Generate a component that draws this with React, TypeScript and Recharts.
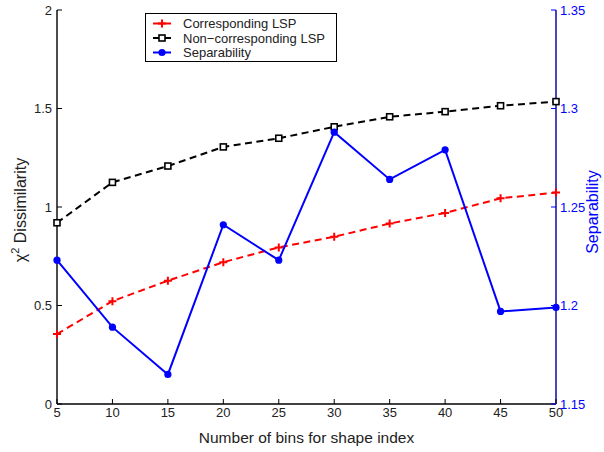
import { LineChart, Line, XAxis, YAxis, Legend } from 'recharts'

const bins = [5, 10, 15, 20, 25, 30, 35, 40, 45, 50]
const corresponding = [0.355, 0.522, 0.626, 0.72, 0.795, 0.849, 0.916, 0.97, 1.044, 1.073]
const nonCorresponding = [0.92, 1.125, 1.208, 1.305, 1.349, 1.407, 1.458, 1.484, 1.514, 1.535]
const separability = [1.223, 1.189, 1.165, 1.241, 1.223, 1.288, 1.264, 1.279, 1.197, 1.199]

const xTicks = [5, 10, 15, 20, 25, 30, 35, 40, 45, 50]
const leftTicks = [0, 0.5, 1, 1.5, 2]
const rightTicks = [1.15, 1.2, 1.25, 1.3, 1.35]

const data = bins.map((b, i) => ({
  bins: b,
  corr: corresponding[i],
  nonCorr: nonCorresponding[i],
  sep: separability[i],
}))

const FONT = '"Liberation Sans", Arial, Helvetica, sans-serif'
const TICK_LEN = 5
const AXIS_BLUE = '#1a1aa8'

// ticks point inward, like the matlab original
const BottomTick = ({ x, y, payload, gap }: any) => {
  const ay = y - gap
  return (
    <g>
      <line x1={x} x2={x} y1={ay} y2={ay - TICK_LEN} stroke='#000' strokeWidth={1} />
      <text x={x} y={y} dy='0.72em' textAnchor='middle' fontSize={13} fontFamily={FONT} fill='#222'>
        {payload.value}
      </text>
    </g>
  )
}

const TopTick = ({ x, y, gap }: any) => {
  const ay = y + gap
  return <line x1={x} x2={x} y1={ay} y2={ay + TICK_LEN} stroke='#000' strokeWidth={1} />
}

const LeftTick = ({ x, y, payload, gap }: any) => {
  const ax = x + gap
  return (
    <g>
      <line x1={ax} x2={ax + TICK_LEN} y1={y} y2={y} stroke='#000' strokeWidth={1} />
      <text x={x} y={y} dy='0.36em' textAnchor='end' fontSize={13} fontFamily={FONT} fill='#222'>
        {payload.value}
      </text>
    </g>
  )
}

const RightTick = ({ x, y, payload, gap }: any) => {
  const ax = x - gap
  return (
    <g>
      <line x1={ax} x2={ax - TICK_LEN} y1={y} y2={y} stroke='#0000ff' strokeWidth={1} />
      <text x={x} y={y} dy='0.36em' textAnchor='start' fontSize={13} fontFamily={FONT} fill='#0000ff'>
        {payload.value}
      </text>
    </g>
  )
}

const PlusDot = ({ cx, cy }: any) => (
  <path d={`M${cx - 4},${cy}H${cx + 4}M${cx},${cy - 4}V${cy + 4}`} stroke='#ff0000' strokeWidth={2} fill='none' />
)
const SquareDot = ({ cx, cy }: any) => (
  <rect x={cx - 3} y={cy - 3} width={6} height={6} fill='#fff' stroke='#000' strokeWidth={1.6} />
)
const CircleDot = ({ cx, cy }: any) => <circle cx={cx} cy={cy} r={3.6} fill='#0000ff' />

const seriesInfo = [
  { name: 'Corresponding LSP', color: '#ff0000', Dot: PlusDot },
  { name: 'Non\u2212corresponding LSP', color: '#000000', Dot: SquareDot },
  { name: 'Separability', color: '#0000ff', Dot: CircleDot },
]

const LegendBox = () => (
  <svg width={192} height={49} style={{ display: 'block' }}>
    <rect x={0.5} y={0.5} width={191} height={48} fill='#fff' stroke='#000' strokeWidth={1} />
    {seriesInfo.map((s, i) => {
      const cy = 10.5 + i * 14.5
      return (
        <g key={s.name}>
          <line x1={8} x2={26} y1={cy} y2={cy} stroke={s.color} strokeWidth={2} />
          <s.Dot cx={17} cy={cy} />
          <text x={38} y={cy} dy='0.36em' fontSize={13} fontFamily={FONT} fill='#222'>{s.name}</text>
        </g>
      )
    })}
  </svg>
)

const LeftLabel = ({ viewBox }: any) => {
  const cx = viewBox.x + 26
  const cy = 210
  return (
    <text x={cx} y={cy} transform={`rotate(-90 ${cx} ${cy})`} textAnchor='middle' fontSize={16} fontFamily={FONT} fill='#222'>
      χ<tspan fontSize={11} dy={-7}>2</tspan><tspan dy={7}> Dissimilarity</tspan>
    </text>
  )
}

const RightLabel = ({ viewBox }: any) => {
  const cx = viewBox.x + viewBox.width - 6
  const cy = 212
  return (
    <text x={cx} y={cy} transform={`rotate(-90 ${cx} ${cy})`} textAnchor='middle' fontSize={16} fontFamily={FONT} fill='#0000ff'>
      Separability
    </text>
  )
}

const BottomLabel = ({ viewBox }: any) => (
  <text x={viewBox.x + viewBox.width / 2} y={viewBox.y + 39} textAnchor='middle' fontSize={15.5} fontFamily={FONT} fill='#222'>
    Number of bins for shape index
  </text>
)

export default function App() {
  return (
    <div style={{ position: 'absolute', left: 0, top: 0, width: 604, height: 452, background: '#fff' }}>
      <LineChart width={604} height={452} data={data} margin={{ top: 10, right: 0, bottom: 0, left: 0 }}>
        <XAxis
          xAxisId='b'
          dataKey='bins'
          type='number'
          domain={[5, 50]}
          ticks={xTicks}
          interval={0}
          height={48}
          tickSize={0}
          tickMargin={4}
          tickLine={false}
          axisLine={{ stroke: '#000', strokeWidth: 1.4 }}
          tick={<BottomTick gap={4} />}
          label={<BottomLabel />}
        />
        <XAxis
          xAxisId='t'
          orientation='top'
          dataKey='bins'
          type='number'
          domain={[5, 50]}
          ticks={xTicks}
          interval={0}
          height={0}
          tickSize={0}
          tickMargin={0}
          tickLine={false}
          axisLine={{ stroke: '#000', strokeWidth: 1.4 }}
          tick={<TopTick gap={0} />}
        />
        <YAxis
          yAxisId='l'
          domain={[0, 2]}
          ticks={leftTicks}
          interval={0}
          width={57}
          tickSize={0}
          tickMargin={5}
          tickLine={false}
          axisLine={{ stroke: '#000', strokeWidth: 1.4 }}
          tick={<LeftTick gap={5} />}
          label={<LeftLabel />}
        />
        <YAxis
          yAxisId='r'
          orientation='right'
          domain={[1.15, 1.35]}
          ticks={rightTicks}
          interval={0}
          width={48}
          tickSize={0}
          tickMargin={4}
          tickLine={false}
          axisLine={{ stroke: AXIS_BLUE, strokeWidth: 1.6 }}
          tick={<RightTick gap={4} />}
          label={<RightLabel />}
        />
        <Legend
          layout='horizontal'
          verticalAlign='middle'
          align='center'
          content={<LegendBox />}
          wrapperStyle={{ left: 145, top: 13, width: 192, height: 49 }}
        />
        <Line
          xAxisId='b' yAxisId='l' dataKey='corr' type='linear'
          stroke='#ff0000' strokeWidth={2} strokeDasharray='7 4.5'
          dot={<PlusDot />} activeDot={false} isAnimationActive={false}
        />
        <Line
          xAxisId='b' yAxisId='l' dataKey='nonCorr' type='linear'
          stroke='#000000' strokeWidth={2} strokeDasharray='7 4.5'
          dot={<SquareDot />} activeDot={false} isAnimationActive={false}
        />
        <Line
          xAxisId='b' yAxisId='r' dataKey='sep' type='linear'
          stroke='#0000ff' strokeWidth={2}
          dot={<CircleDot />} activeDot={false} isAnimationActive={false}
        />
      </LineChart>
    </div>
  )
}
